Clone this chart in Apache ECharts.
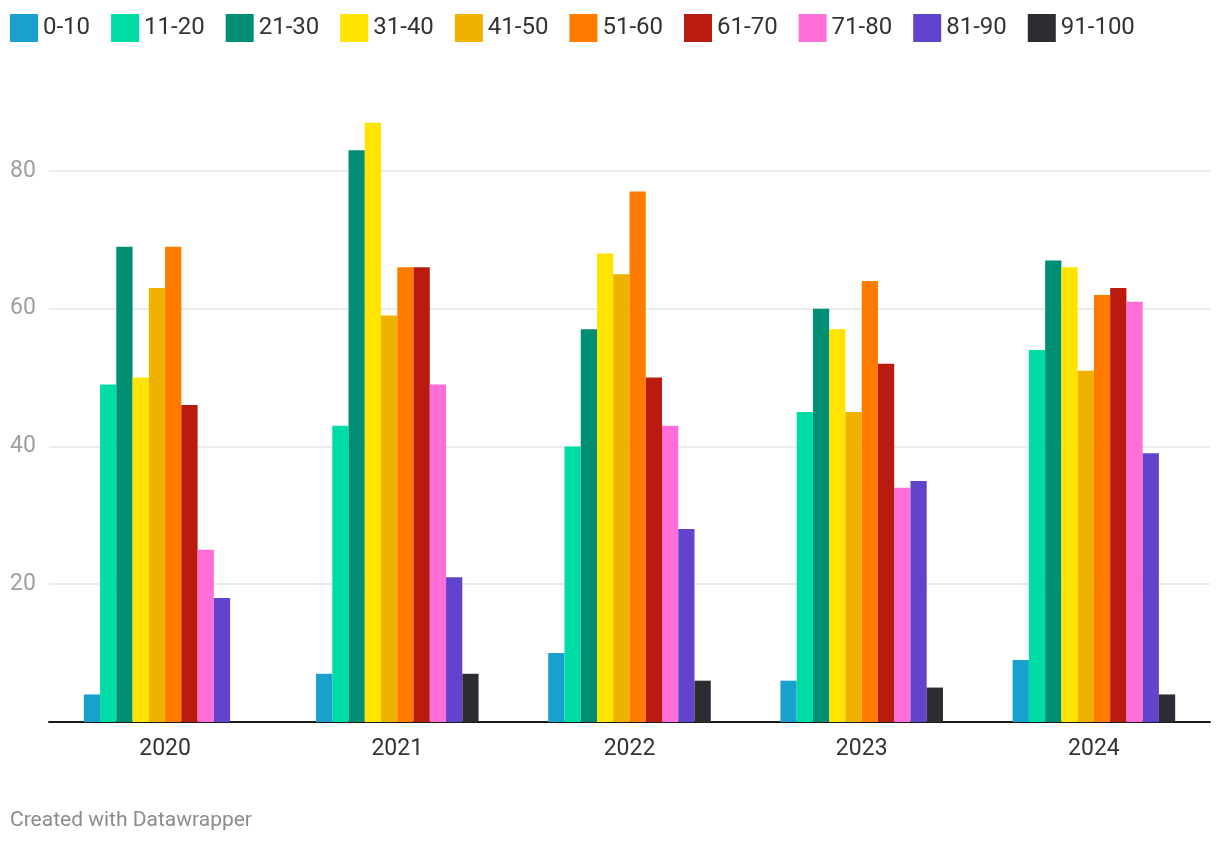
<!DOCTYPE html>
<html>
<head>
<meta charset="utf-8">
<script src="https://cdn.jsdelivr.net/npm/echarts@6/dist/echarts.min.js"></script>
<style>
html,body{margin:0;padding:0;background:#fff;}
#chart{width:1220px;height:844px;}
</style>
</head>
<body>
<div id="chart"></div>
<script>
const years = ['2020', '2021', '2022', '2023', '2024'];
const groups = ['0-10', '11-20', '21-30', '31-40', '41-50', '51-60', '61-70', '71-80', '81-90', '91-100'];
const g0_10   = [4, 7, 10, 6, 9];
const g11_20  = [49, 43, 40, 45, 54];
const g21_30  = [69, 83, 57, 60, 67];
const g31_40  = [50, 87, 68, 57, 66];
const g41_50  = [63, 59, 65, 45, 51];
const g51_60  = [69, 66, 77, 64, 62];
const g61_70  = [46, 66, 50, 52, 63];
const g71_80  = [25, 49, 43, 34, 61];
const g81_90  = [18, 21, 28, 35, 39];
const g91_100 = [0, 7, 6, 5, 4];
const yTicks = [0, 20, 40, 60, 80];

const values = [g0_10, g11_20, g21_30, g31_40, g41_50, g51_60, g61_70, g71_80, g81_90, g91_100];
const colors = ['#18a1cd', '#00dca6', '#008f75', '#ffe400', '#efb200', '#ff7b00', '#b91c0e', '#ff6fd7', '#6244cc', '#2e2c32'];

const chart = echarts.init(document.getElementById('chart'));
chart.setOption({
  animation: false,
  color: colors,
  textStyle: { fontFamily: 'Roboto, sans-serif' },
  legend: {
    left: 5, top: 9,
    icon: 'rect',
    itemWidth: 28, itemHeight: 28,
    itemGap: 21,
    textStyle: { fontSize: 24, color: '#333333', fontFamily: 'Roboto' },
    data: groups
  },
  grid: { left: 49, right: 10, top: 102, bottom: 122, containLabel: false },
  xAxis: {
    type: 'category',
    data: years,
    axisLine: { lineStyle: { color: '#1a1a1a', width: 2 } },
    axisTick: { show: false },
    axisLabel: { fontSize: 23, color: '#333333', margin: 16, fontFamily: 'Roboto' }
  },
  yAxis: {
    type: 'value',
    min: 0, max: 90, interval: 20,
    axisLine: { show: false },
    axisTick: { show: false },
    axisLabel: {
      fontSize: 23, color: '#a0a0a0', align: 'left', margin: 39, fontFamily: 'Roboto',
      showMaxLabel: false,
      formatter: v => (yTicks.includes(v) && v !== 0) ? String(v) : ''
    },
    splitLine: { show: true, showMaxLine: false, lineStyle: { color: '#e6e6e6', width: 1.5 } }
  },
  series: groups.map((name, i) => ({
    name: name,
    type: 'bar',
    data: values[i],
    barGap: '0%',
    barCategoryGap: '30%',
    itemStyle: { color: colors[i] }
  })),
  graphic: [{
    type: 'text',
    left: 10, top: 810,
    style: { text: 'Created with Datawrapper', fontSize: 21, fill: '#8c8c8c', fontFamily: 'Roboto' }
  }]
});
</script>
</body>
</html>
